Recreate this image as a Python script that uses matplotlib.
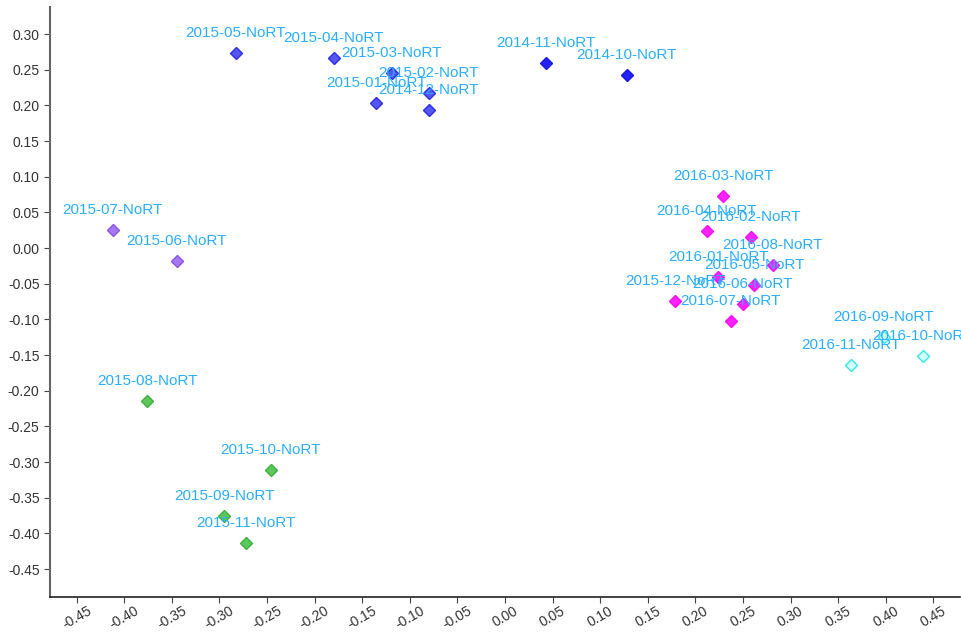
import matplotlib.pyplot as plt

plt.rcParams['font.family'] = ['Liberation Sans', 'DejaVu Sans']

labels = ['2014-10-NoRT', '2014-11-NoRT', '2014-12-NoRT', '2015-01-NoRT', '2015-02-NoRT',
          '2015-03-NoRT', '2015-04-NoRT', '2015-05-NoRT', '2015-06-NoRT', '2015-07-NoRT',
          '2015-08-NoRT', '2015-09-NoRT', '2015-10-NoRT', '2015-11-NoRT', '2015-12-NoRT',
          '2016-01-NoRT', '2016-02-NoRT', '2016-03-NoRT', '2016-04-NoRT', '2016-05-NoRT',
          '2016-06-NoRT', '2016-07-NoRT', '2016-08-NoRT', '2016-09-NoRT', '2016-10-NoRT',
          '2016-11-NoRT']
x = [0.128, 0.043, -0.080, -0.135, -0.080, -0.119, -0.180, -0.283, -0.345, -0.412,
     -0.376, -0.295, -0.246, -0.272, 0.179, 0.224, 0.258, 0.229, 0.212, 0.262,
     0.250, 0.237, 0.281, 0.398, 0.439, 0.363]
y = [0.243, 0.260, 0.194, 0.204, 0.218, 0.246, 0.266, 0.274, -0.018, 0.026,
     -0.215, -0.376, -0.311, -0.413, -0.074, -0.041, 0.016, 0.073, 0.024, -0.052,
     -0.078, -0.102, -0.023, -0.124, -0.151, -0.164]
groups = ['b1', 'b1', 'b2', 'b2', 'b2', 'b2', 'b2', 'b2', 'p', 'p',
          'g', 'g', 'g', 'g', 'm', 'm', 'm', 'm', 'm', 'm',
          'm', 'm', 'm', 'c', 'c', 'c']

face = {'b1': '#2323f5', 'b2': '#5555f0', 'p': '#a878f2', 'g': '#5cc85c',
        'm': '#ff22ff', 'c': '#d4ffff'}
edge = {'b1': '#1a1ae0', 'b2': '#2e2ee6', 'p': '#8a55e6', 'g': '#3eb03e',
        'm': '#f010f0', 'c': '#33e8e8'}

fig = plt.figure(figsize=(9.61, 6.32), dpi=100)
ax = fig.add_axes([0.052, 0.0554, 0.947, 0.9336])

for i in range(len(x)):
    g = groups[i]
    ax.plot(x[i], y[i], marker='D', ms=6.5, mfc=face[g], mec=edge[g], mew=1, linestyle='none')
    ax.annotate(labels[i], (x[i], y[i]), xytext=(0, 14.4), textcoords='offset points',
                ha='center', va='center', fontsize=11, color='#2aaeff', annotation_clip=False)

ax.set_xlim(-0.478, 0.478)
ax.set_ylim(-0.489, 0.338)
ax.set_xticks([i * 0.05 - 0.45 for i in range(19)])
ax.set_yticks([i * 0.05 - 0.45 for i in range(16)])
ax.set_xticklabels(['%.2f' % (i * 0.05 - 0.45 + 1e-9) for i in range(19)], rotation=30, ha='center')
ax.set_yticklabels(['%.2f' % (i * 0.05 - 0.45 + 1e-9) for i in range(16)])

ax.spines['top'].set_visible(False)
ax.spines['right'].set_visible(False)
ax.spines['left'].set_color('#666666')
ax.spines['left'].set_linewidth(1.5)
ax.spines['bottom'].set_color('#222222')
ax.spines['bottom'].set_linewidth(1.2)
ax.tick_params(axis='y', colors='#333333', color='#444444', labelsize=10, length=4)
ax.tick_params(axis='x', colors='#333333', color='#444444', labelsize=10, length=4, pad=1)

fig.savefig('out.png', dpi=100)
